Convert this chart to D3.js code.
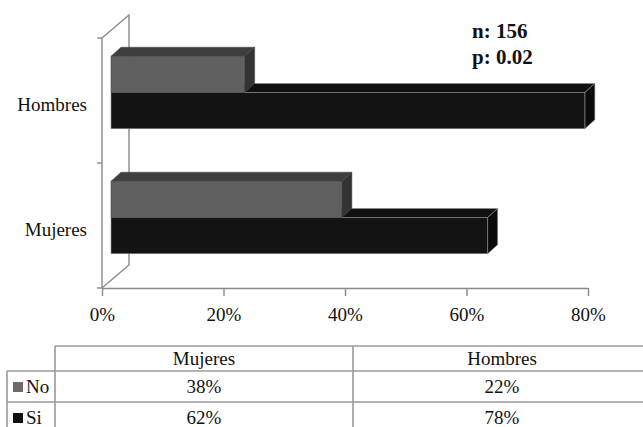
<!DOCTYPE html>
<html>
<head>
<meta charset="utf-8">
<script src="https://cdn.jsdelivr.net/npm/d3@7"></script>
<style>
  html, body { margin: 0; padding: 0; background: #fff; }
  svg, svg text { font-family: "Liberation Serif", "Times New Roman", Tinos, "DejaVu Serif", serif; }
</style>
</head>
<body>
<svg id="chart" width="643" height="427"></svg>
<script>
// Categories (top to bottom on the chart) and the two answer series
const categories = ["Hombres", "Mujeres"];
const seriesNames = ["No", "Si"];
const noValues = [22, 38];   // Hombres, Mujeres
const siValues = [78, 62];
const xTicks = [0, 20, 40, 60, 80];

// Table column order
const tableColumns = ["Mujeres", "Hombres"];

const notes = ["n: 156", "p: 0.02"];

const FONT = '"Liberation Serif", "Times New Roman", Tinos, "DejaVu Serif", serif';

const colors = {
  No: { front: "#606060", top: "#3e3e3e", side: "#333333", stroke: "#4a4a4a", key: "#6b6b6b" },
  Si: { front: "#131313", top: "#101010", side: "#0b0b0b", stroke: "#8f8f8f", key: "#111111" }
};

const svg = d3.select("#chart");

// Plot frame (front plane)
const x = d3.scaleLinear().domain([0, 80]).range([102, 588]);
const y = d3.scaleBand().domain(categories).range([38, 288])
  .paddingInner(0.42).paddingOuter(0.21);
const ySub = d3.scaleBand().domain(seriesNames).range([0, y.bandwidth()]);

// Oblique depth of the wall and of the bars
const wallDepth = { dx: 27, dy: -23 };
const barOffset = { dx: 9, dy: -8 };
const barDepth = { dx: 10, dy: -9 };

const [y0, y1] = y.range();

// Back wall outline
const wallColor = "#8a8a8a";
svg.append("path")
  .attr("d", `M${x(0)},${y0} L${x(0) + wallDepth.dx},${y0 + wallDepth.dy} L${x(0) + wallDepth.dx},${y1 + wallDepth.dy} L${x(0)},${y1}`)
  .attr("fill", "none").attr("stroke", wallColor).attr("stroke-width", 1.4);

// Bars, lower series first so the upper bar covers its top face
const rows = [];
categories.forEach((c, i) => {
  rows.push({ cat: c, s: "Si", v: siValues[i] });
  rows.push({ cat: c, s: "No", v: noValues[i] });
});

const barG = svg.append("g");
rows.forEach(r => {
  const col = colors[r.s];
  const xl = x(0) + barOffset.dx;
  const xr = x(r.v) + barOffset.dx;
  const yt = y(r.cat) + ySub(r.s) + barOffset.dy;
  const yb = yt + ySub.bandwidth();
  const dx = barDepth.dx, dy = barDepth.dy;
  const g = barG.append("g");
  // top face
  g.append("path")
    .attr("d", `M${xl},${yt} L${xl + dx},${yt + dy} L${xr + dx},${yt + dy} L${xr},${yt} Z`)
    .attr("fill", col.top).attr("stroke", col.stroke).attr("stroke-width", 0.6);
  // side face
  g.append("path")
    .attr("d", `M${xr},${yt} L${xr + dx},${yt + dy} L${xr + dx},${yb + dy} L${xr},${yb} Z`)
    .attr("fill", col.side).attr("stroke", col.stroke).attr("stroke-width", 0.6);
  // front face
  g.append("rect")
    .attr("x", xl).attr("y", yt).attr("width", xr - xl).attr("height", yb - yt)
    .attr("fill", col.front).attr("stroke", col.stroke).attr("stroke-width", 0.6);
});

// Front left axis line and category boundary ticks
svg.append("line")
  .attr("x1", x(0)).attr("x2", x(0)).attr("y1", y0).attr("y2", y1)
  .attr("stroke", wallColor).attr("stroke-width", 1.4);
const bounds = d3.range(categories.length + 1).map(i => y0 + i * (y1 - y0) / categories.length);
svg.selectAll(".ytick").data(bounds).join("line")
  .attr("x1", x(0) - 5).attr("x2", x(0)).attr("y1", d => d).attr("y2", d => d)
  .attr("stroke", wallColor).attr("stroke-width", 1.4);

// Category labels
const yAxis = d3.axisLeft(y).tickSize(0).tickPadding(15);
const yg = svg.append("g").attr("transform", `translate(${x(0)},0)`).call(yAxis);
yg.attr("font-family", null);
yg.select(".domain").remove();
yg.selectAll("text").style("font-family", FONT).style("font-size", "19px").attr("fill", "#111")
  .attr("dy", "0.55em");

// Value axis
const xAxis = d3.axisBottom(x).tickValues(xTicks).tickFormat(d => d + "%")
  .tickSize(8).tickSizeOuter(0).tickPadding(12);
const xg = svg.append("g").attr("transform", `translate(0,${y1})`).call(xAxis);
xg.attr("font-family", null);
xg.select(".domain").attr("stroke", wallColor).attr("stroke-width", 1.4);
xg.selectAll(".tick line").attr("stroke", wallColor).attr("stroke-width", 1.4);
xg.selectAll("text").style("font-family", FONT).style("font-size", "19px").attr("fill", "#111");

// Sample size / p-value note
svg.append("g").selectAll("text").data(notes).join("text")
  .attr("x", 472).attr("y", (d, i) => 38 + i * 26)
  .style("font-family", FONT).style("font-size", "21px").style("font-weight", "bold")
  .attr("fill", "#111")
  .text(d => d);

// Data table below the chart
const tbl = { top: 346, headerH: 25, rowH: 31, keyLeft: 7, left: 55, right: 651 };
const colX = d3.scaleBand().domain(tableColumns).range([tbl.left, tbl.right]);
const lineColor = "#9a9a9a";
const tg = svg.append("g");
const rowTops = [tbl.top, tbl.top + tbl.headerH, tbl.top + tbl.headerH + tbl.rowH, tbl.top + tbl.headerH + 2 * tbl.rowH];
const tableBottom = rowTops[3];

// horizontal rules
tg.append("line").attr("x1", tbl.left).attr("x2", tbl.right).attr("y1", rowTops[0]).attr("y2", rowTops[0]);
[rowTops[1], rowTops[2], rowTops[3]].forEach(yy => {
  tg.append("line").attr("x1", tbl.keyLeft).attr("x2", tbl.right).attr("y1", yy).attr("y2", yy);
});
// vertical rules
tg.append("line").attr("x1", tbl.keyLeft).attr("x2", tbl.keyLeft).attr("y1", rowTops[1]).attr("y2", tableBottom);
tableColumns.forEach(c => {
  tg.append("line").attr("x1", colX(c)).attr("x2", colX(c)).attr("y1", rowTops[0]).attr("y2", tableBottom);
});
tg.append("line").attr("x1", tbl.right).attr("x2", tbl.right).attr("y1", rowTops[0]).attr("y2", tableBottom);
tg.selectAll("line").attr("stroke", lineColor).attr("stroke-width", 1.6);

const textStyle = sel => sel.style("font-family", FONT).style("font-size", "19px")
  .attr("fill", "#111").attr("text-anchor", "middle");

// header
tableColumns.forEach(c => {
  tg.append("text").attr("x", colX(c) + colX.bandwidth() / 2).attr("y", rowTops[0] + 19)
    .call(textStyle).text(c);
});

// rows
const tableValues = { No: noValues, Si: siValues };
seriesNames.forEach((s, ri) => {
  const top = rowTops[ri + 1];
  const base = top + 22;
  tg.append("rect").attr("x", 13).attr("y", top + 11).attr("width", 10).attr("height", 10)
    .attr("fill", colors[s].key);
  tg.append("text").attr("x", 26).attr("y", base)
    .style("font-family", FONT).style("font-size", "19px").attr("fill", "#111").text(s);
  tableColumns.forEach(c => {
    const v = tableValues[s][categories.indexOf(c)];
    tg.append("text").attr("x", colX(c) + colX.bandwidth() / 2).attr("y", base)
      .call(textStyle).text(v + "%");
  });
});
</script>
</body>
</html>
